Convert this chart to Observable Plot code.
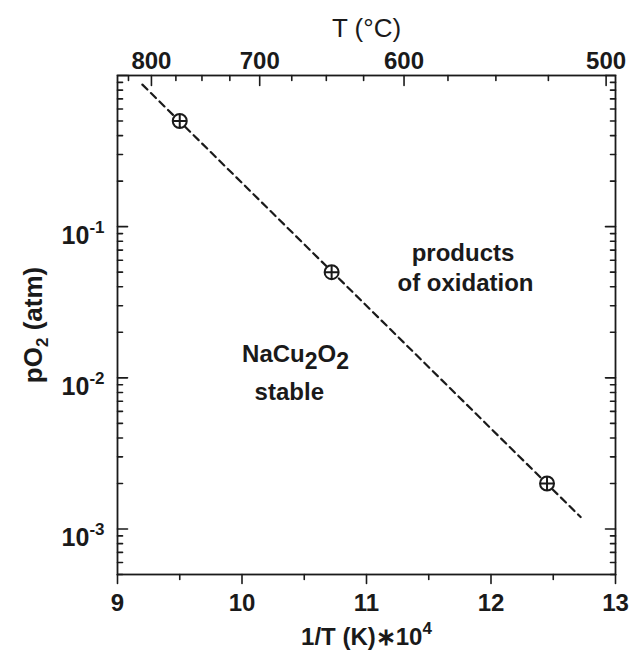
<!DOCTYPE html>
<html><head><meta charset="utf-8">
<script src="https://cdn.jsdelivr.net/npm/d3@7"></script>
<script src="https://cdn.jsdelivr.net/npm/@observablehq/plot@0.6"></script>
<style>body{margin:0;background:#fff} #chart svg{display:block}</style>
</head><body><div id="chart"></div>
<script>
// ---- data ----
const invT = [9.50, 10.72, 12.45];          // 1/T (K) * 1e4
const pO2 = [0.5, 0.05, 0.002];              // atm
const fitInvT = [9.2, 12.72];                // dashed line ends
const fitPO2 = [0.87, 0.0012];
const xMajor = [9, 10, 11, 12, 13];
const xMinor = [9.5, 10.5, 11.5, 12.5];
const yDecades = [1e-3, 1e-2, 1e-1, 1];
const yLabelTicks = [1e-3, 1e-2, 1e-1];
const yMinor = [5e-4,6e-4,7e-4,8e-4,9e-4, 2e-3,3e-3,4e-3,5e-3,6e-3,7e-3,8e-3,9e-3,
                2e-2,3e-2,4e-2,5e-2,6e-2,7e-2,8e-2,9e-2, 0.2,0.3,0.4,0.5,0.6,0.7,0.8,0.9];
const topMajorC = [800, 700, 600, 500];
const topMinorC = [825, 775, 750, 725, 675, 650, 625, 575, 550, 525];
const labelLeft = ["NaCu_{2}O_{2}", "stable"];
const labelRight = ["products", "of oxidation"];

// top axis calibration (°C -> bottom-axis units), as drawn in the reference
const A = 3.186, B = 4869.3;
const cToX = c => A + B / c;
const xToC = x => Math.round(B / (x - A));

const ink = "#1a1a1a";
const tickShape = {draw(ctx, l) { ctx.moveTo(0, 0); ctx.lineTo(0, -l); }};
const circlePlus = {draw(ctx, size) {
  const r = Math.sqrt(size / Math.PI);
  ctx.moveTo(r, 0); ctx.arc(0, 0, r, 0, 2 * Math.PI);
  ctx.moveTo(-r, 0); ctx.lineTo(r, 0);
  ctx.moveTo(0, -r); ctx.lineTo(0, r);
}};
const tk = (data, opts) => Plot.vector(data, {anchor: "start", shape: tickShape, stroke: ink, strokeWidth: 1.6, ...opts});

const pts = invT.map((x, i) => ({x, y: pO2[i]}));
const fit = fitInvT.map((x, i) => ({x, y: fitPO2[i]}));

const chart = Plot.plot({
  width: 631, height: 651,
  marginLeft: 117, marginRight: 16, marginTop: 75, marginBottom: 77,
  style: {fontFamily: "'Liberation Sans', Arial, sans-serif", fontWeight: "bold", fontSize: "24px", color: ink, background: "white"},
  x: {domain: [9, 13], axis: null},
  y: {type: "log", domain: [5e-4, 1], axis: null},
  marks: [
    Plot.frame({stroke: ink, strokeWidth: 1.8}),
    // ticks
    tk(xMajor, {x: d => d, frameAnchor: "bottom", length: 9, rotate: 180}),
    tk(xMinor, {x: d => d, frameAnchor: "bottom", length: 5, rotate: 180}),
    tk(topMajorC, {x: cToX, frameAnchor: "top", length: 10, rotate: 180}),
    tk(topMinorC, {x: cToX, frameAnchor: "top", length: 5, rotate: 180}),
    tk(yDecades, {y: d => d, frameAnchor: "left", length: 10, rotate: 90}),
    tk(yMinor, {y: d => d, frameAnchor: "left", length: 5, rotate: 90}),
    tk(yDecades, {y: d => d, frameAnchor: "right", length: 10, rotate: -90}),
    tk(yMinor, {y: d => d, frameAnchor: "right", length: 5, rotate: -90}),
    // tick labels
    Plot.axisX(xMajor, {anchor: "bottom", tickSize: 0, tickPadding: 19, label: null, tickFormat: d => String(d)}),
    Plot.axisX(topMajorC.map(cToX), {anchor: "top", tickSize: 0, tickPadding: 7, label: null, tickFormat: xToC}),
    Plot.axisY(yLabelTicks, {anchor: "left", tickSize: 0, tickPadding: 13, dy: 9, label: null, fontSize: 25,
      tickFormat: d => `10^{${Math.round(Math.log10(d))}}`}),
    // axis titles
    Plot.text(["T (°C)"], {frameAnchor: "top", lineAnchor: "middle", textAnchor: "middle", dy: -47, fontSize: 26, fontWeight: "normal"}),
    Plot.text(["1/T (K)\u2217"+"10^{4}"], {frameAnchor: "bottom", lineAnchor: "middle", textAnchor: "middle", dy: 63}),
    Plot.text(["pO_{2} (atm)"], {frameAnchor: "left", lineAnchor: "middle", textAnchor: "middle", dx: -84, rotate: -90, fontSize: 26}),
    // data
    Plot.line(fit, {x: "x", y: "y", stroke: ink, strokeWidth: 2.2, strokeDasharray: "7,5"}),
    Plot.dot(pts, {x: "x", y: "y", r: 7, symbol: circlePlus, stroke: ink, fill: "white", strokeWidth: 2}),
    // annotations
    Plot.text([labelLeft[0]], {x: 10.43, y: 0.0143}),
    Plot.text([labelLeft[1]], {x: 10.38, y: 0.00797}),
    Plot.text([labelRight[0]], {x: 11.775, y: 0.0665}),
    Plot.text([labelRight[1]], {x: 11.795, y: 0.0419})
  ]
});

// rich text: ^{..} superscript, _{..} subscript
function rich(svg) {
  d3.select(svg).selectAll("text").each(function() {
    const s = this.textContent;
    if (!/[_^]\{/.test(s) || this.querySelector("tspan")) return;
    const t = d3.select(this);
    const isNa = s.startsWith("NaCu");
    const isP = s.startsWith("pO");
    t.text(null);
    const re = /([_^])\{([^}]*)\}|([^_^]+)/g;
    let m, cur = 0;
    while ((m = re.exec(s))) {
      let target = 0, txt, size = null;
      if (m[3] !== undefined) { txt = m[3]; }
      else if (m[1] === "^") { txt = m[2]; target = -11; size = 17; }
      else { txt = m[2]; if (isNa) { target = 7; size = 23; } else { target = 6; size = isP ? 17 : 15; } }
      const ts = t.append("tspan").attr("dy", target - cur).text(txt);
      if (size) ts.attr("font-size", size);
      cur = target;
    }
  });
}
rich(chart);
document.getElementById("chart").appendChild(chart);
</script>
</body></html>
